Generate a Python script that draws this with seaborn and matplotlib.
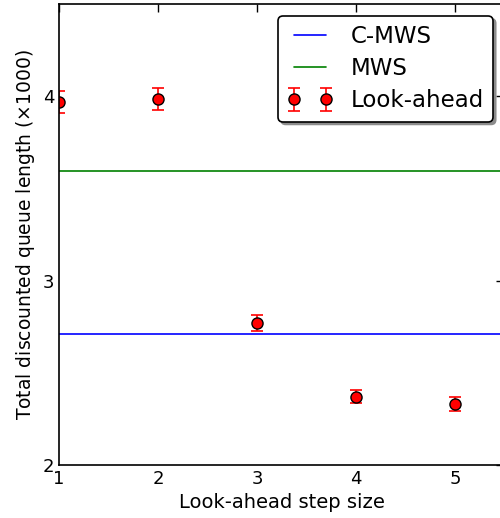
import matplotlib
matplotlib.use("Agg")
import matplotlib.pyplot as plt
import seaborn as sns
import numpy as np

step_sizes = [1, 2, 3, 4, 5]
lookahead_vals = [3.968, 3.985, 2.770, 2.371, 2.330]
lookahead_err = [0.06, 0.06, 0.045, 0.037, 0.038]
cmws_val = 2.710
mws_val = 3.594

sns.set_style("white")
plt.rcParams['font.family'] = ['DejaVu Sans']
plt.rcParams['text.color'] = 'black'
plt.rcParams['axes.labelcolor'] = 'black'

fig = plt.figure(figsize=(5.0, 5.18), dpi=100)
ax = fig.add_axes([0.118, 0.1023, 0.891, 0.890])

ax.axhline(cmws_val, color='blue', lw=1.2, label='C-MWS')
ax.axhline(mws_val, color='green', lw=1.2, label='MWS')
ax.errorbar(step_sizes, lookahead_vals, yerr=lookahead_err, fmt='o', color='red',
            ecolor='red', mfc='red', mec='black', ms=8, capsize=4, elinewidth=1.2,
            capthick=1.2, label='Look-ahead')

ax.set_xlim(1, 5.5)
ax.set_ylim(2, 4.5)
ax.set_xticks([1, 2, 3, 4, 5])
ax.set_yticks([2, 3, 4])
ax.tick_params(direction='in', top=True, right=True, length=6, width=1, labelsize=13, colors='black')
for s in ax.spines.values():
    s.set_color('black')
    s.set_linewidth(1.2)
    s.set_visible(True)

ax.set_xlabel('Look-ahead step size', fontsize=14, color='black')
ax.set_ylabel(r'Total discounted queue length ($\times$1000)', fontsize=13.5, color='black')

leg = ax.legend(loc='upper right', bbox_to_anchor=(0.974, 0.974), borderaxespad=0,
                numpoints=2, fontsize=16.5,
                shadow={'color': '0.55', 'alpha': 1}, fancybox=True, frameon=True, framealpha=1,
                handlelength=2.0, handletextpad=0.75, borderpad=0.4, labelspacing=0.4)
leg.get_frame().set_edgecolor('black')
leg.get_frame().set_linewidth(1.2)
for t in leg.get_texts():
    t.set_color('black')

fig.savefig('out.png', dpi=100)
